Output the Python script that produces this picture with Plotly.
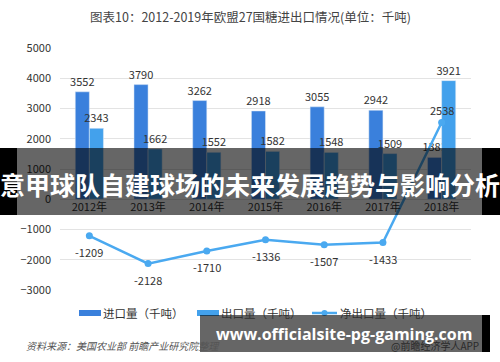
import plotly.graph_objects as go

years = ["2012年", "2013年", "2014年", "2015年", "2016年", "2017年", "2018年"]
imports = [3552, 3790, 3262, 2918, 3055, 2942, 1383]
exports = [2343, 1662, 1552, 1582, 1548, 1509, 3921]
net = [-1209, -2128, -1710, -1336, -1507, -1433, 2538]

FONT = "Noto Sans CJK SC"
C_IMP = "#3a80dc"
C_EXP = "#43a1ec"
C_NET = "#4aa9f0"

W, H = 500, 362
L, R, T, B = 60, 29, 48, 72
PW, PH = W - L - R, H - T - B


def px(x):
    return (x - L) / PW


def py(y):
    return (H - B - y) / PH


fig = go.Figure()
fig.add_bar(x=years, y=imports, name="进口量（千吨）", marker_color=C_IMP,
            text=imports, textposition="outside", cliponaxis=False, constraintext="none",
            textfont=dict(size=11, color="#333", family=FONT))
fig.add_bar(x=years, y=exports, name="出口量（千吨）", marker_color=C_EXP,
            text=exports, textposition="outside", cliponaxis=False, constraintext="none",
            textfont=dict(size=11, color="#333", family=FONT))
fig.add_scatter(x=years, y=net, name="净出口量（千吨）", mode="lines+markers",
                line=dict(color=C_NET, width=2.5), marker=dict(size=7, color=C_NET),
                cliponaxis=False)

shapes = []
annos = []

# net export labels (data-referenced)
for yr, v in zip(years, net):
    annos.append(dict(x=yr, y=v, xref="x", yref="y", text=str(v), showarrow=False,
                      yshift=(12 if v > 0 else -16), xanchor="center", yanchor="middle",
                      font=dict(size=11, color="#333", family=FONT)))


def note(x, y, text, size, color, anchor="center", family=FONT):
    annos.append(dict(x=px(x), y=py(y), xref="paper", yref="paper", xanchor=anchor,
                      yanchor="middle", text=text, showarrow=False,
                      font=dict(size=size, color=color, family=family)))


def rect(x0, x1, y0, y1, color):
    shapes.append(dict(type="rect", xref="paper", yref="paper", layer="above",
                       x0=px(x0), x1=px(x1), y0=py(y1), y1=py(y0),
                       fillcolor=color, line_width=0))


# title
note(250, 16, "图表10：2012-2019年欧盟27国糖进出口情况(单位：千吨)", 12.5, "#444")

# legend (manual)
rect(79, 101, 310, 316, C_IMP)
note(101, 313, "进口量（千吨）", 11.5, "#333", "left")
rect(197, 219, 310, 316, C_EXP)
note(219, 313, "出口量（千吨）", 11.5, "#333", "left")
shapes.append(dict(type="line", xref="paper", yref="paper", layer="above",
                   x0=px(312), x1=px(337), y0=py(313), y1=py(313),
                   line=dict(color=C_NET, width=2.5)))
shapes.append(dict(type="circle", xref="paper", yref="paper", layer="above",
                   x0=px(321.5), x1=px(327.5), y0=py(316), y1=py(310),
                   fillcolor=C_NET, line_width=0))
note(338, 313, "净出口量（千吨）", 11.5, "#333", "left")

# source
note(24, 345, "<i>资料来源：美国农业部 前瞻产业研究院整理</i>", 10, "#555", "left")

# banner overlay
rect(17, 482, 148, 215, "rgba(0,0,0,0.6)")
rect(0, 17, 148, 215, "#000")
rect(482, 500, 148, 215, "#000")
note(250, 184, "<b>意甲球队自建球场的未来发展趋势与影响分析</b>", 25, "#fff")

# bottom watermark overlay
rect(200, 482, 315, 352, "rgba(0,0,0,0.6)")
rect(482, 490, 315, 352, "#000")
note(481, 345, "@前瞻经济学人APP", 10, "#2a2a2a", "right")
note(344, 334, "<b>www.officialsite-pg-gaming.com</b>", 16, "#fff", "center", "Open Sans")

fig.update_layout(
    width=W, height=H, margin=dict(l=L, r=R, t=T, b=B, pad=0),
    paper_bgcolor="white", plot_bgcolor="white",
    barmode="group", bargap=0.52, bargroupgap=0,
    showlegend=False,
    font=dict(family=FONT, size=11, color="#333"),
    shapes=shapes, annotations=annos,
    xaxis=dict(anchor="free", position=py(199), showgrid=False, showline=False,
               ticks="", tickfont=dict(size=11, color="#333", family=FONT)),
    yaxis=dict(range=[-3000, 5000], dtick=1000, showgrid=True, gridcolor="#e3e3e3",
               gridwidth=1, zeroline=True, zerolinecolor="#e3e3e3", zerolinewidth=1,
               ticks="", ticklabelstandoff=8,
               tickfont=dict(size=11, color="#333", family=FONT)),
)

fig.write_html("out.html")
